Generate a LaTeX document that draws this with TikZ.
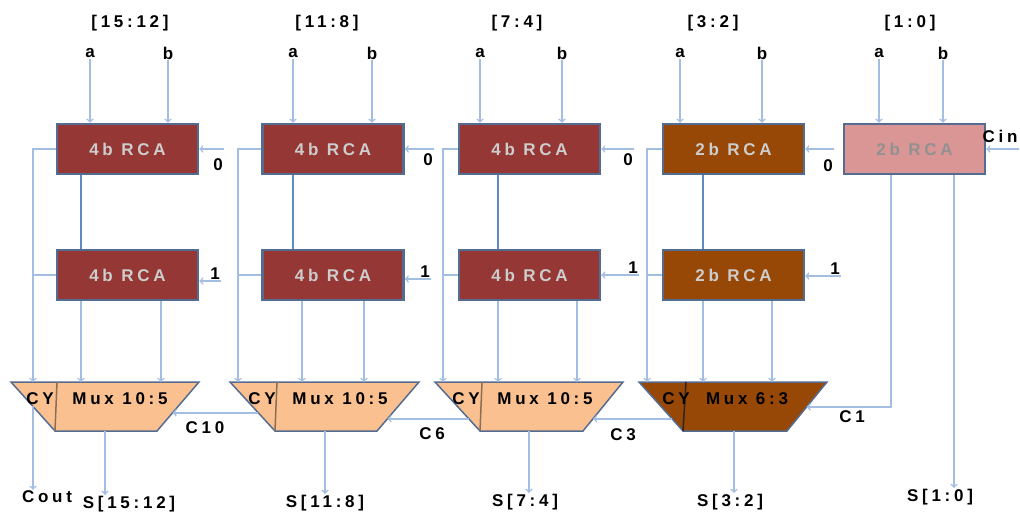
\documentclass[tikz,border=0pt]{standalone}
\usepackage{fontspec}
\setmainfont{Liberation Sans}[LetterSpace=22]
\usetikzlibrary{calc}
\definecolor{rcared}{RGB}{149,55,53}
\definecolor{rcabrown}{RGB}{151,72,6}
\definecolor{rcapink}{RGB}{217,150,148}
\definecolor{muxpeach}{RGB}{250,192,144}
\definecolor{boxedge}{RGB}{85,108,145}
\definecolor{wirelight}{RGB}{163,190,224}
\definecolor{wiredark}{RGB}{95,138,195}
\definecolor{rcatext}{RGB}{205,205,205}
\definecolor{pinktext}{RGB}{145,145,145}
\definecolor{divlight}{RGB}{140,110,85}
\definecolor{divdark}{RGB}{50,35,25}
\tikzset{
  lbl/.style={font=\fontsize{17}{20}\selectfont\bfseries, inner sep=1pt},
  rca/.style={draw=boxedge, line width=2.5pt, minimum width=141pt, minimum height=50pt,
    inner sep=0pt, text=rcatext, font=\fontsize{17}{20}\selectfont\bfseries},
  wire/.style={draw=wirelight, line width=1.6pt},
  link/.style={draw=wiredark, line width=2pt},
  muxedge/.style={draw=boxedge, line width=1.5pt},
}
\begin{document}
\begin{tikzpicture}[x=1pt, y=-1pt]
      \useasboundingbox (0,0) rectangle (1020,513);

      % adders, upper row for carry 0, lower row for carry 1
      \node[rca, fill=rcared] (b1u) at (127.5,149) {4b RCA};
      \node[rca, fill=rcared] (b2u) at (333,149) {4b RCA};
      \node[rca, fill=rcared] (b3u) at (529.5,149) {4b RCA};
      \node[rca, fill=rcabrown] (b4u) at (733.5,149) {2b RCA};
      \node[rca, fill=rcapink, text=pinktext] (b5u) at (914.5,149) {2b RCA};
      \node[rca, fill=rcared] (b1l) at (127.5,275) {4b RCA};
      \node[rca, fill=rcared] (b2l) at (333,275) {4b RCA};
      \node[rca, fill=rcared] (b3l) at (529.5,275) {4b RCA};
      \node[rca, fill=rcabrown] (b4l) at (733.5,275) {2b RCA};

      % bit ranges
      \node[lbl] (r1) at (130,23) {[15:12]};
      \node[lbl] (r2) at (327,23) {[11:8]};
      \node[lbl] (r3) at (517,23) {[7:4]};
      \node[lbl] (r4) at (713,23) {[3:2]};
      \node[lbl] (r5) at (910,23) {[1:0]};

      % operands
      \node[lbl] (ina1) at (90,53) {a};
      \node[lbl] (inb1) at (168,53) {b};
      \node[lbl] (ina2) at (293,53) {a};
      \node[lbl] (inb2) at (372,53) {b};
      \node[lbl] (ina3) at (480,53) {a};
      \node[lbl] (inb3) at (562,53) {b};
      \node[lbl] (ina4) at (680,53) {a};
      \node[lbl] (inb4) at (762,53) {b};
      \node[lbl] (ina5) at (879,53) {a};
      \node[lbl] (inb5) at (943,53) {b};
      \draw[wire,->] (ina1) -- (ina1 |- b1u.north);
      \draw[wire,->] (inb1) -- (inb1 |- b1u.north);
      \draw[wire,->] (ina2) -- (ina2 |- b2u.north);
      \draw[wire,->] (inb2) -- (inb2 |- b2u.north);
      \draw[wire,->] (ina3) -- (ina3 |- b3u.north);
      \draw[wire,->] (inb3) -- (inb3 |- b3u.north);
      \draw[wire,->] (ina4) -- (ina4 |- b4u.north);
      \draw[wire,->] (inb4) -- (inb4 |- b4u.north);
      \draw[wire,->] (ina5) -- (ina5 |- b5u.north);
      \draw[wire,->] (inb5) -- (inb5 |- b5u.north);

      % carry in
      \node[lbl] (z1) at (218,165) {0};
      \node[lbl] (z2) at (428,160) {0};
      \node[lbl] (z3) at (628,160) {0};
      \node[lbl] (z4) at (828,166) {0};
      \node[lbl] (cin) at (1000,136) {Cin};
      \draw[wire,->] (z1.north east |- b1u.east) -- (b1u.east);
      \draw[wire,->] (z2.north east |- b2u.east) -- (b2u.east);
      \draw[wire,->] (z3.north east |- b3u.east) -- (b3u.east);
      \draw[wire,->] (z4.north east |- b4u.east) -- (b4u.east);
      \draw[wire,->] (cin.south east |- b5u.east) -- (b5u.east);
      \node[lbl] (o1) at (215,274) {1};
      \node[lbl] (o2) at (425,272) {1};
      \node[lbl] (o3) at (633,268) {1};
      \node[lbl] (o4) at (835,269) {1};
      \draw[wire,->] (o1.south east) -- (o1.south east -| b1l.east);
      \draw[wire,->] (o2.south east) -- (o2.south east -| b2l.east);
      \draw[wire,->] (o3.south east) -- (o3.south east -| b3l.east);
      \draw[wire,->] (o4.south east) -- (o4.south east -| b4l.east);

      % multiplexers
      \coordinate (m1tl) at (11,382);  \coordinate (m1tr) at (199,382);
      \coordinate (m1br) at (157,431); \coordinate (m1bl) at (55,431);
      \coordinate (m2tl) at (230,382); \coordinate (m2tr) at (419,382);
      \coordinate (m2br) at (377,431); \coordinate (m2bl) at (275,431);
      \coordinate (m3tl) at (435,382); \coordinate (m3tr) at (623,382);
      \coordinate (m3br) at (583,431); \coordinate (m3bl) at (480,431);
      \coordinate (m4tl) at (639,382); \coordinate (m4tr) at (827,382);
      \coordinate (m4br) at (787,431); \coordinate (m4bl) at (683,431);
      \draw[muxedge, fill=muxpeach] (m1tl) -- (m1tr) -- (m1br) -- (m1bl) -- cycle;
      \draw[muxedge, fill=muxpeach] (m2tl) -- (m2tr) -- (m2br) -- (m2bl) -- cycle;
      \draw[muxedge, fill=muxpeach] (m3tl) -- (m3tr) -- (m3br) -- (m3bl) -- cycle;
      \draw[muxedge, fill=rcabrown] (m4tl) -- (m4tr) -- (m4br) -- (m4bl) -- cycle;
      \draw[divlight, line width=1.5pt] (57,0 |- m1tl) -- (m1bl);
      \draw[divlight, line width=1.5pt] (277,0 |- m2tl) -- (m2bl);
      \draw[divlight, line width=1.5pt] (482,0 |- m3tl) -- (m3bl);
      \draw[divdark, line width=1.5pt] (686,0 |- m4tl) -- (m4bl);
      \node[lbl] (cy1) at (40,399) {CY};
      \node[lbl] (mx1) at (120,399) {Mux 10:5};
      \node[lbl] (cy2) at (262,399) {CY};
      \node[lbl] (mx2) at (340,399) {Mux 10:5};
      \node[lbl] (cy3) at (466,399) {CY};
      \node[lbl] (mx3) at (545,399) {Mux 10:5};
      \node[lbl] (cy4) at (676,399) {CY};
      \node[lbl] (mx4) at (747,399) {Mux 6:3};

      % carry out of both rows to the CY part
      \draw[wire,->] (b1u.west) -| (33,0 |- m1tl);
      \draw[wire] (b1l.west) -- (33,0 |- b1l.west);
      \draw[wire,->] (b2u.west) -| (238,0 |- m2tl);
      \draw[wire] (b2l.west) -- (238,0 |- b2l.west);
      \draw[wire,->] (b3u.west) -| (443,0 |- m3tl);
      \draw[wire] (b3l.west) -- (443,0 |- b3l.west);
      \draw[wire,->] (b4u.west) -| (647,0 |- m4tl);
      \draw[wire] (b4l.west) -- (647,0 |- b4l.west);

      \draw[link] (81,0 |- b1u.south) -- (81,0 |- b1l.north);
      \draw[link] (293,0 |- b2u.south) -- (293,0 |- b2l.north);
      \draw[link] (498,0 |- b3u.south) -- (498,0 |- b3l.north);
      \draw[link] (703,0 |- b4u.south) -- (703,0 |- b4l.north);

      % sums into the multiplexers
      \draw[wire,->] (81,0 |- b1l.south) -- (81,0 |- m1tl);
      \draw[wire,->] (161,0 |- b1l.south) -- (161,0 |- m1tl);
      \draw[wire,->] (302,0 |- b2l.south) -- (302,0 |- m2tl);
      \draw[wire,->] (364,0 |- b2l.south) -- (364,0 |- m2tl);
      \draw[wire,->] (498,0 |- b3l.south) -- (498,0 |- m3tl);
      \draw[wire,->] (577,0 |- b3l.south) -- (577,0 |- m3tl);
      \draw[wire,->] (703,0 |- b4l.south) -- (703,0 |- m4tl);
      \draw[wire,->] (772,0 |- b4l.south) -- (772,0 |- m4tl);

      % select carries
      \draw[wire,->] (891,0 |- b5u.south) |- ($(m4tr)!.51!(m4br)$);
      \node[lbl] (c1) at (852,417) {C1};
      \draw[wire,->] ($(m4tl)!.75!(m4bl)$) -- ($(m3tr)!.75!(m3br)$);
      \node[lbl] (c3) at (623,435) {C3};
      \draw[wire,->] ($(m3tl)!.75!(m3bl)$) -- ($(m2tr)!.75!(m2br)$);
      \node[lbl] (c6) at (432,434) {C6};
      \draw[wire,->] ($(m2tl)!.63!(m2bl)$) -- ($(m1tr)!.63!(m1br)$);
      \node[lbl] (c10) at (205,428) {C10};

      % outputs
      \node[lbl] (cout) at (47,497) {Cout};
      \node[lbl] (s1) at (129,504) {S[15:12]};
      \node[lbl] (s2) at (325,503) {S[11:8]};
      \node[lbl] (s3) at (525,502) {S[7:4]};
      \node[lbl] (s4) at (730,502) {S[3:2]};
      \node[lbl] (s5) at (940,497) {S[1:0]};
      \draw[wire,->] (33,0 |- cy1.south) -- (33,0 |- cout.north);
      \draw[wire,->] (105,0 |- m1bl) -- (105,0 |- s1.north);
      \draw[wire,->] (325,0 |- m2bl) -- (325,0 |- s2.north);
      \draw[wire,->] (529,0 |- m3bl) -- (529,0 |- s3.north);
      \draw[wire,->] (734,0 |- m4bl) -- (734,0 |- s4.north);
      \draw[wire,->] (954,0 |- b5u.south) -- (954,0 |- s5.north);

    \end{tikzpicture}
\end{document}
